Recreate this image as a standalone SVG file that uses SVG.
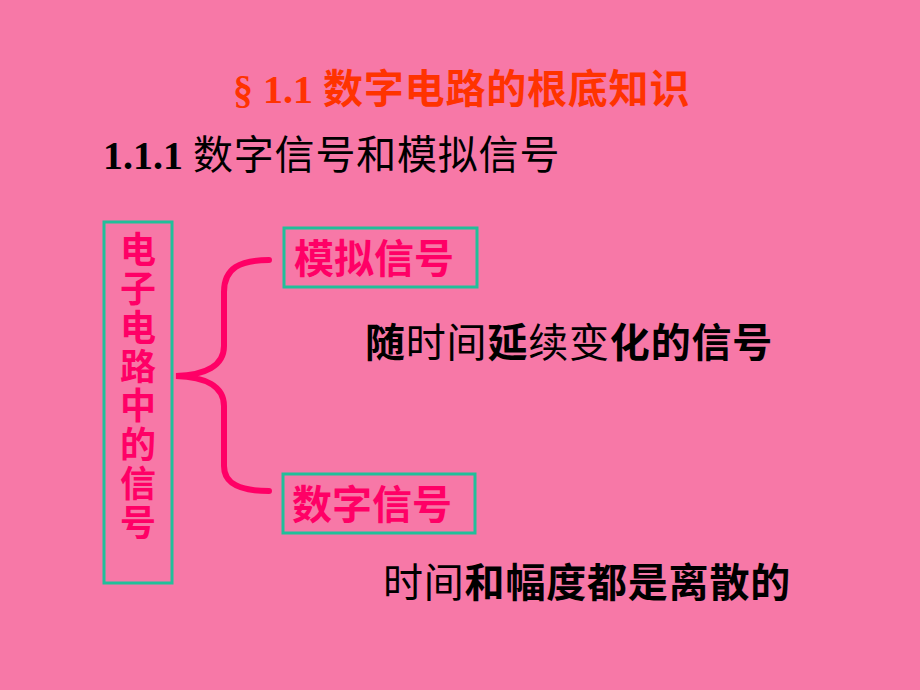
<svg xmlns="http://www.w3.org/2000/svg" width="920" height="690" viewBox="0 0 920 690">
<style>
.cjk{font-family:"Noto Sans CJK SC","Noto Sans",sans-serif}
.ser{font-family:"Liberation Serif","Noto Sans CJK SC",serif;font-weight:bold}
.b{font-weight:bold}
.n{font-weight:normal}
.ls{letter-spacing:0.8px}
.box{fill:none;stroke:#22BF9A;stroke-width:3}
.pink{fill:#FF0066}
</style>
<rect width="920" height="690" fill="#F778A7"/>
<g id="title">
<text x="233" y="103" font-size="40" fill="#FF3300"><tspan class="ser">§ 1.1 </tspan><tspan class="cjk b ls">数字电路的根底知识</tspan></text>
</g>
<g id="subtitle">
<text x="103" y="169" font-size="40" fill="#000"><tspan class="ser">1.1.1 </tspan><tspan class="cjk n ls">数字信号和模拟信号</tspan></text>
</g>
<g id="root">
<rect class="box" x="104" y="222" width="68" height="361"/>
<text class="cjk b pink" x="138" y="231" font-size="36" writing-mode="tb" style="letter-spacing:3px">电子电路中的信号</text>
</g>
<g id="analog">
<rect class="box" x="284" y="228" width="193" height="59"/>
<text class="cjk b pink" x="294" y="273" font-size="40">模拟信号</text>
</g>
<g id="digital">
<rect class="box" x="283" y="474" width="192" height="59"/>
<text class="cjk b pink" x="292" y="519" font-size="40">数字信号</text>
</g>
<g id="analog-desc">
<text class="cjk ls" x="365" y="357" font-size="40" fill="#000"><tspan class="b">随</tspan><tspan class="n">时间</tspan><tspan class="b">延</tspan><tspan class="n">续变</tspan><tspan class="b">化的信号</tspan></text>
</g>
<g id="digital-desc">
<text class="cjk ls" x="383" y="597" font-size="40" fill="#000"><tspan class="n">时间</tspan><tspan class="b">和幅度都是离散的</tspan></text>
</g>
<g id="connectors">
<path d="M269,260 C240,260 224,268 224,292 L224,346 C224,366 205,375 176,376 C205,377 224,386 224,406 L224,466 C224,484 240,491 269,491" fill="none" stroke="#FF0066" stroke-width="6" stroke-linecap="round"/>
</g>
</svg>
